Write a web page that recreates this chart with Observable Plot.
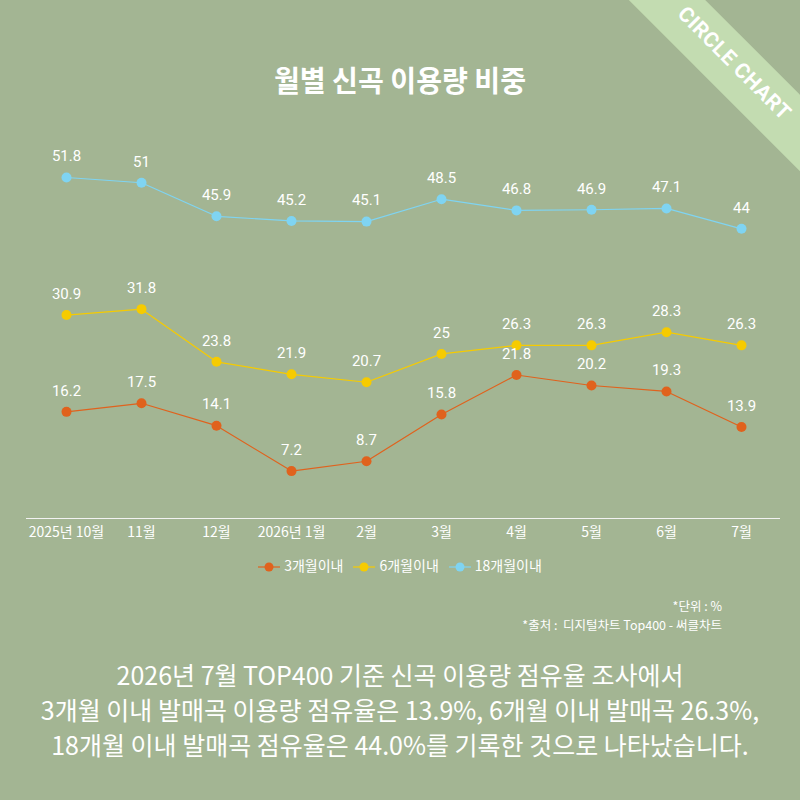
<!DOCTYPE html>
<html><head><meta charset="utf-8">
<script src="https://cdn.jsdelivr.net/npm/d3@7"></script>
<script src="https://cdn.jsdelivr.net/npm/@observablehq/plot@0.6"></script>
<style>
html,body{margin:0;padding:0;}
#wrap{position:relative;width:800px;height:800px;background:#a3b593;overflow:hidden;font-family:"Noto Sans CJK KR","Noto Sans",sans-serif;color:#fff;}
#chart{position:absolute;left:0;top:0;}
.abs{position:absolute;white-space:nowrap;}
#title{left:0;width:800px;top:58px;text-align:center;font-size:29px;font-weight:700;transform:scaleX(0.97);}
#ribbon{left:578px;top:44px;width:320px;height:54px;background:#c3dcb1;transform:rotate(45deg);}
#ribbon span{position:absolute;left:0;width:304px;top:-3px;text-align:center;line-height:54px;font-family:Roboto,sans-serif;font-weight:700;font-size:21px;letter-spacing:0.5px;}
#legend{left:0;width:800px;top:555px;text-align:center;font-size:14px;}
#legend span.item{display:inline-block;margin:0 5px;}
#legend svg{vertical-align:middle;margin-right:4px;}
#notes{right:78px;top:596px;text-align:right;font-size:12.5px;line-height:19px;}
#summary{left:0;width:800px;top:657px;text-align:center;font-size:25px;line-height:35px;}
</style></head>
<body>
<div id="wrap">
  <div id="chart"></div>
  <div id="title" class="abs">월별 신곡 이용량 비중</div>
  <div id="ribbon" class="abs"><span>CIRCLE CHART</span></div>
  <div id="legend" class="abs"></div>
  <div id="notes" class="abs">*단위 : %<br>*출처 :&nbsp; 디지털차트 Top400 - 써클차트</div>
  <div id="summary" class="abs">
    <div>2026년 7월 TOP400 기준 신곡 이용량 점유율 조사에서</div>
    <div>3개월 이내 발매곡 이용량 점유율은 13.9%, 6개월 이내 발매곡 26.3%,</div>
    <div>18개월 이내 발매곡 점유율은 44.0%를 기록한 것으로 나타났습니다.</div>
  </div>
</div>
<script>
const months = ["2025년 10월","11월","12월","2026년 1월","2월","3월","4월","5월","6월","7월"];
const seriesNames = ["3개월이내","6개월이내","18개월이내"];
const seriesColors = ["#e0621d","#f6cb00","#7fd4f2"];
const within3 = [16.2,17.5,14.1,7.2,8.7,15.8,21.8,20.2,19.3,13.9];
const within6 = [30.9,31.8,23.8,21.9,20.7,25,26.3,26.3,28.3,26.3];
const within18 = [51.8,51,45.9,45.2,45.1,48.5,46.8,46.9,47.1,44];

const allSeries = [within3, within6, within18];
const data = [];
allSeries.forEach((vals, si) => vals.forEach((v, i) => data.push({month: months[i], value: v, series: seriesNames[si]})));

const chart = Plot.plot({
  width: 800,
  height: 560,
  marginTop: 123,
  marginBottom: 42,
  marginLeft: 26,
  marginRight: 20,
  style: {background: "transparent", color: "#fff", fontFamily: "'Noto Sans CJK KR', sans-serif", overflow: "visible"},
  x: {type: "point", domain: months, padding: 0.5, label: null, tickSize: 0, tickPadding: 9},
  y: {domain: [0, 60], axis: null},
  color: {domain: seriesNames, range: seriesColors},
  marks: [
    Plot.ruleY([0], {stroke: "#f2f2f2", strokeWidth: 1.2}),
    Plot.line(data, {x: "month", y: "value", z: "series", stroke: "series", strokeWidth: 1.2}),
    Plot.dot(data, {x: "month", y: "value", fill: "series", r: 5}),
    Plot.text(data, {x: "month", y: "value", text: d => String(d.value), dy: -21, fill: "#fff", fontSize: 15, fontFamily: "Roboto, sans-serif"}),
    Plot.axisX({domain: months, tickSize: 0, tickPadding: 9, fontSize: 14, fill: "#fff", label: null})
  ]
});
document.getElementById("chart").appendChild(chart);

const legend = document.getElementById("legend");
seriesNames.forEach((name, i) => {
  const s = document.createElement("span");
  s.className = "item";
  s.innerHTML = `<svg width="22" height="12"><line x1="0" y1="6" x2="22" y2="6" stroke="${seriesColors[i]}" stroke-width="1.2"/><circle cx="11" cy="6" r="4.5" fill="${seriesColors[i]}"/></svg>${name}`;
  legend.appendChild(s);
});
</script>
</body></html>
